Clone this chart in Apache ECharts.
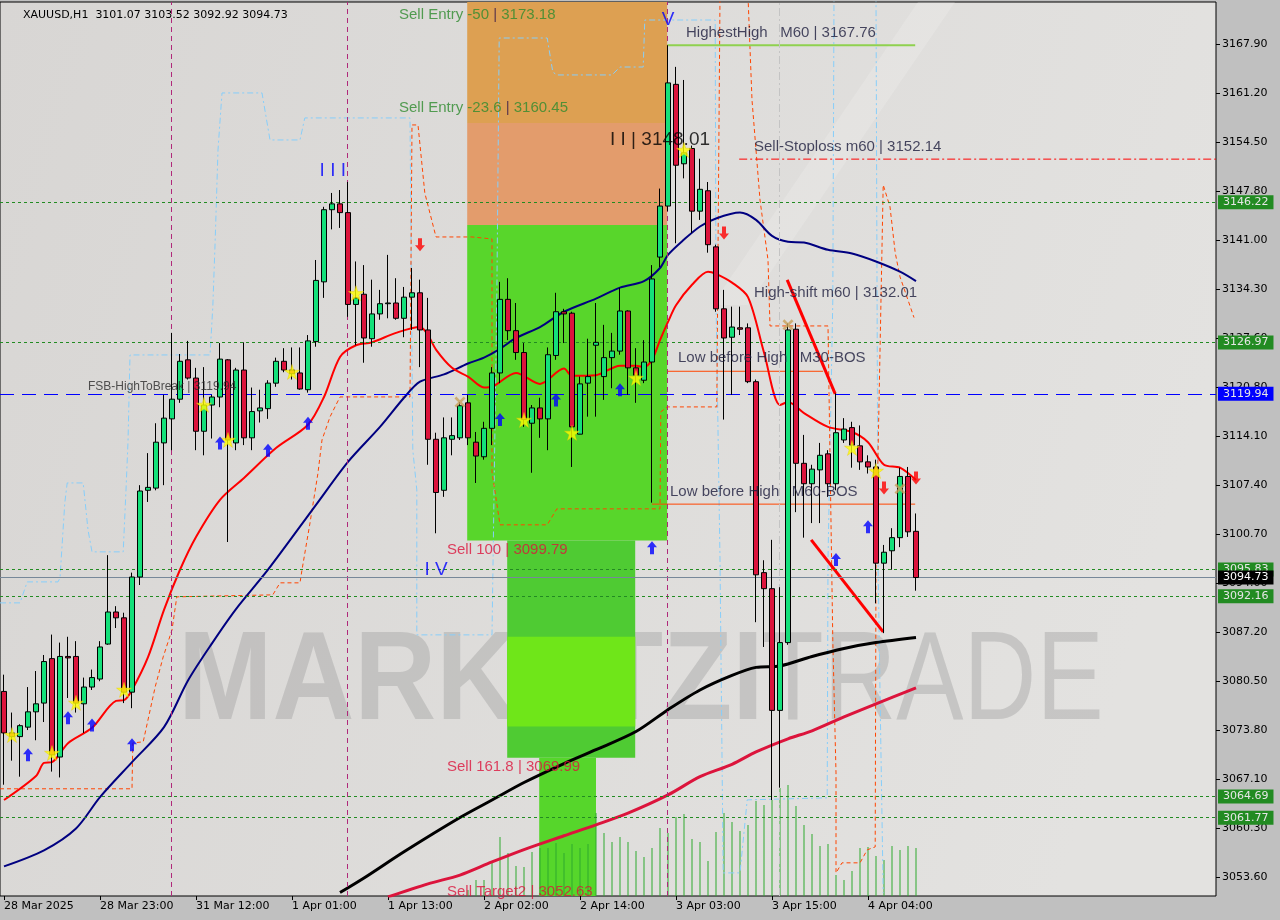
<!DOCTYPE html>
<html><head><meta charset="utf-8">
<script src="https://cdn.jsdelivr.net/npm/echarts@6/dist/echarts.min.js"></script>
<style>html,body{margin:0;padding:0;background:#C0C0C0;}#c{width:1280px;height:920px;}</style>
</head><body><div id="c"></div>
<script>
// ---------------- DATA ----------------
const titleText = 'XAUUSD,H1  3101.07 3103.52 3092.92 3094.73';
const tickLabels = ['28 Mar 2025','28 Mar 23:00','31 Mar 12:00','1 Apr 01:00','1 Apr 13:00','2 Apr 02:00','2 Apr 14:00','3 Apr 03:00','3 Apr 15:00','4 Apr 04:00'];
const priceTicks = [3053.6,3060.3,3067.1,3073.8,3080.5,3087.2,3094.0,3100.7,3107.4,3114.1,3120.8,3127.6,3134.3,3141.0,3147.8,3154.5,3161.2,3167.9];

const opens = [3079.1,3073.4,3072.9,3074.2,3076.3,3077.5,3083.6,3070.1,3083.9,3083.9,3077.4,3079.7,3080.8,3085.6,3090.0,3089.2,3079.0,3094.8,3106.7,3107.0,
3113.2,3116.5,3119.2,3124.6,3122.1,3114.8,3118.4,3119.5,3124.6,3113.2,3123.2,3113.9,3117.6,3117.9,3121.4,3124.4,3123.2,3122.8,3120.5,3127.1,
3135.3,3145.2,3146.0,3144.8,3132.2,3133.6,3127.5,3130.9,3132.3,3132.4,3130.3,3133.2,3133.8,3128.7,3113.7,3106.7,3113.7,3113.9,3118.7,3113.3,
3111.3,3115.2,3122.8,3132.9,3128.6,3125.6,3115.9,3118.0,3116.5,3125.2,3131.2,3131.0,3114.4,3121.4,3126.6,3122.3,3124.9,3125.8,3131.3,3123.5,
3121.8,3124.3,3138.7,3145.7,3162.4,3151.5,3153.6,3145.0,3147.8,3140.1,3131.6,3127.7,3129.0,3129.0,3121.6,3095.4,3093.2,3076.5,3085.8,3128.8,
3110.4,3107.6,3109.5,3111.7,3107.6,3113.6,3115.3,3112.8,3110.6,3109.9,3096.7,3098.4,3100.2,3108.6,3101.07];
const highs = [3081.4,3076.2,3074.6,3079.7,3081.9,3084.1,3086.9,3085.8,3086.6,3086.0,3081.0,3082.1,3086.0,3097.8,3090.8,3089.9,3095.4,3107.4,3111.8,3115.9,
3119.8,3128.3,3125.4,3127.2,3123.5,3123.6,3119.8,3126.9,3124.7,3123.5,3127.0,3120.8,3120.5,3121.8,3124.9,3126.2,3126.3,3126.3,3128.0,3138.3,
3145.6,3147.5,3147.9,3149.0,3138.1,3137.6,3135.6,3134.2,3139.0,3135.8,3134.6,3137.2,3135.6,3133.1,3114.6,3116.7,3116.7,3118.8,3119.8,3114.7,
3116.1,3123.6,3135.3,3135.8,3132.4,3126.9,3118.4,3119.4,3126.3,3133.8,3131.6,3131.2,3122.3,3127.5,3132.4,3129.4,3128.3,3134.5,3131.4,3126.2,
3127.3,3137.6,3148.1,3167.76,3164.8,3163.0,3154.0,3152.2,3149.0,3140.4,3134.2,3131.9,3131.9,3129.6,3121.9,3097.1,3099.9,3093.4,3129.6,3129.6,
3114.3,3110.2,3113.2,3112.2,3120.0,3116.6,3116.1,3115.6,3111.5,3110.9,3099.2,3101.5,3109.8,3109.9,3103.52];
const lows = [3066.3,3069.6,3067.4,3073.8,3072.4,3074.9,3068.1,3067.3,3078.2,3076.2,3073.4,3079.3,3080.5,3085.5,3087.8,3077.5,3076.8,3093.7,3105.1,3106.7,
3107.4,3112.2,3118.7,3121.9,3112.2,3111.5,3113.8,3118.1,3099.6,3112.2,3112.9,3112.2,3116.0,3116.5,3120.9,3122.9,3121.9,3120.5,3120.1,3126.4,
3133.1,3142.5,3142.7,3130.5,3126.6,3124.2,3126.4,3130.1,3130.3,3130.1,3127.7,3128.7,3123.6,3110.2,3100.8,3105.8,3111.5,3113.6,3112.9,3107.7,
3110.9,3112.9,3121.4,3127.3,3124.6,3115.4,3109.1,3113.9,3112.2,3124.6,3126.9,3109.9,3114.4,3116.8,3116.8,3119.1,3120.7,3125.3,3119.8,3118.7,
3121.4,3105.0,3137.3,3145.0,3140.6,3149.5,3142.0,3143.8,3139.3,3131.2,3116.4,3119.8,3128.0,3121.4,3088.6,3085.2,3064.2,3065.9,3085.5,3103.7,
3100.2,3102.2,3102.2,3105.8,3106.7,3113.2,3109.8,3109.5,3109.0,3091.2,3087.1,3095.8,3098.9,3100.3,3092.92];
const closes = [3073.4,3072.9,3074.4,3076.3,3077.4,3083.2,3070.4,3083.9,3083.7,3077.5,3079.7,3081.0,3085.2,3090.0,3089.2,3079.0,3094.8,3106.6,3107.1,3113.3,
3116.6,3119.2,3124.4,3122.1,3114.8,3118.4,3119.5,3124.7,3113.6,3123.2,3113.9,3117.5,3118.0,3121.4,3124.4,3123.2,3122.7,3120.6,3127.2,3135.5,
3145.2,3146.0,3144.8,3132.2,3133.1,3127.6,3130.9,3132.3,3132.4,3130.3,3133.2,3133.8,3128.7,3113.7,3106.4,3113.9,3114.2,3118.3,3113.9,3111.4,
3115.2,3122.8,3132.9,3128.6,3125.6,3116.4,3118.0,3116.5,3125.3,3131.2,3130.9,3115.4,3121.3,3122.3,3127.0,3124.9,3125.8,3131.3,3123.5,3122.5,
3124.3,3135.7,3145.7,3162.6,3151.3,3153.0,3145.0,3148.0,3140.4,3131.6,3127.6,3129.1,3128.8,3121.6,3095.1,3093.2,3076.5,3085.8,3128.7,3110.4,
3107.6,3109.6,3111.5,3107.6,3114.6,3115.1,3112.9,3110.6,3109.9,3096.7,3098.2,3100.2,3108.6,3101.0,3094.73];
// tick volume (visible only on the right part of the reference)
const volumes = [null,null,null,null,null,null,null,null,null,null,null,null,null,null,null,null,null,null,null,null,
null,null,null,null,null,null,null,null,null,null,null,null,null,null,null,null,null,null,null,null,
null,null,null,null,null,null,null,null,null,null,null,null,null,null,null,null,null,null,54,143,
143,304,528,385,269,260,394,430,430,474,385,465,430,465,743,564,483,528,483,403,
349,430,609,564,707,734,510,483,313,573,743,662,582,635,850,814,859,967,993,806,
635,555,448,465,188,143,224,430,439,358,322,448,412,448,430];

// moving averages: [candle index, price]
const maFast = [[0,3064.2],[4,3067.5],[5,3069.3],[6,3069.4],[8,3072.0],[11,3074.1],[14,3077.8],[15,3077.9],[16,3079.3],[18,3083.8],[20,3090.3],[22,3095.8],[24,3100.3],[27,3105.4],[30,3108.4],[34,3112.5],[38,3115.7],[40,3119.5],[42,3125.0],[44,3126.6],[46,3127.0],[49,3128.3],[52,3129.1],[53,3128.0],[54,3126.0],[56,3123.5],[58,3122.3],[60,3120.8],[61,3120.9],[64,3122.8],[67,3121.3],[70,3123.4],[71,3122.4],[74,3122.5],[77,3123.8],[79,3123.8],[80,3123.6],[81,3124.6],[82,3127.3],[83,3129.8],[84,3132.1],[86,3134.9],[88,3136.7],[89,3136.4],[91,3135.2],[93,3133.2],[95,3125.6],[97,3118.4],[98,3118.8],[100,3117.3],[103,3115.4],[106,3114.7],[108,3113.3],[110,3110.2],[112,3109.8],[114,3108.1]];
const maMid = [[0,3055.1],[5,3057.3],[9,3060.3],[12,3064.6],[16,3069.4],[20,3074.2],[23,3080.6],[26,3085.7],[29,3090.4],[33,3095.8],[39,3104.7],[43,3110.6],[47,3115.4],[50,3119.4],[52,3121.6],[55,3122.6],[58,3124.1],[60,3124.9],[62,3126.1],[64,3127.6],[67,3129.1],[70,3131.2],[74,3133.0],[77,3134.5],[80,3135.4],[82,3137.2],[83,3139.0],[85,3141.1],[87,3142.9],[89,3144.0],[92,3144.8],[94,3143.8],[96,3141.6],[98,3140.8],[100,3140.7],[103,3139.7],[106,3139.2],[109,3138.1],[112,3136.7],[114,3135.4]];
const maSlow = [[42,3051.5],[45,3053.5],[50,3057.1],[57,3061.8],[61,3064.2],[65,3066.6],[70,3069.2],[74,3071.1],[79,3073.6],[83,3076.6],[87,3079.3],[91,3081.3],[94,3082.4],[97,3082.6],[101,3083.9],[105,3085.0],[109,3085.8],[114,3086.5]];
const maLong = [[48,3050.9],[53,3052.7],[57,3053.9],[61,3055.7],[65,3057.4],[70,3059.3],[74,3060.8],[78,3062.4],[83,3064.9],[87,3067.4],[91,3069.1],[94,3070.8],[98,3072.6],[101,3073.7],[105,3075.6],[109,3077.4],[114,3079.6]];

// envelope / channel paths: [index position, price]
const bluePath1 = [[-0.5,3091.25],[2.0,3091.25],[2.9,3094.13],[6.75,3094.13],[7.0,3094.68],[7.6,3104.97],[7.9,3107.71],[9.9,3107.71],[10.5,3101.27],[11.0,3098.25],[14.9,3098.25],[15.25,3106.75],[15.5,3113.34],[15.75,3125.27],[25.75,3125.27],[26.1,3131.86],[26.4,3141.05],[26.75,3153.4],[27.25,3161.22],[32.25,3161.22],[33.25,3154.77],[37.0,3154.77],[37.6,3157.79],[50.75,3157.79],[51.1,3112.24],[51.6,3106.75],[51.6,3086.86],[61.0,3086.86],[61.6,3132.82],[61.9,3168.76],[67.9,3168.76],[68.6,3164.09],[69.1,3163.69],[76.0,3163.69],[77.0,3164.78],[79.9,3164.78],[80.1,3171.23],[88.9,3171.23],[89.0,3132.82],[89.5,3097.15],[89.9,3054.2],[92.0,3054.2],[92.9,3064.22],[102.9,3064.5],[103.0,3097.15],[103.6,3132.82],[103.75,3174.5]];
const bluePath2 = [[109.0,3174.5],[109.25,3097.15],[109.6,3072.04],[109.9,3051.46]];
const orangePath1 = [[-0.5,3065.74],[16.0,3065.74],[16.1,3072.04],[17.4,3072.18],[18.9,3079.73],[19.9,3083.84],[21.0,3087.55],[21.6,3092.08],[33.6,3092.35],[34.5,3094.0],[37.0,3094.0],[37.25,3095.78],[38.25,3102.23],[39.25,3109.09],[39.75,3113.61],[40.75,3116.77],[42.0,3119.51],[50.75,3119.51],[51.0,3156.83],[51.75,3156.83],[52.6,3147.5],[54.0,3141.46],[58.5,3141.46],[61.0,3141.19],[61.0,3109.23],[62.0,3101.96],[67.9,3101.96],[69.1,3104.15],[82.0,3104.15],[82.1,3117.46],[82.9,3118.14],[89.1,3118.14],[89.5,3174.5]];
const orangePath2 = [[93.0,3174.5],[93.5,3160.26],[94.5,3146.54],[95.5,3138.31],[95.75,3129.25],[103.0,3129.25],[103.6,3086.17],[104.0,3067.92],[104.0,3054.2],[104.75,3055.58],[107.0,3055.58],[107.9,3057.36],[108.9,3057.77],[109.0,3097.15],[109.9,3148.6],[110.75,3145.6],[111.4,3139.3],[112.0,3136.0],[113.75,3130.4]];

// trend lines and level segments
const trendA = [[97.9,3135.57],[103.9,3119.94]];
const trendB = [[100.9,3099.9],[109.9,3087.27]];
const highestHigh = [[82.9,3167.76],[113.9,3167.76]];
const bosM30 = [[82.9,3123.03],[102.4,3123.03]];
const bosM60 = [[81.0,3104.8],[113.9,3104.8]];
const stopLoss = [[91.9,3152.14],[151.5,3152.14]];
const daySeparators = [20.9,42.9,82.9];
const greyMarker = [96.9];

// horizontal levels with axis price boxes
const greenLevels = [3146.22,3126.97,3095.83,3092.16,3064.69,3061.77];
const blueLevel = 3119.94;
const lastPrice = 3094.73;

// zones: [x0, x1, priceTop, priceBottom]
const zoneEntryTop = [57.9,82.9,3173.7,3157.1];
const zoneEntryLow = [57.9,82.9,3157.1,3143.1];
const zoneSell = [57.9,82.9,3143.1,3099.8];
const zoneSell2 = [62.9,78.9,3099.8,3070.0];
const zoneSell2Band = [62.9,78.9,3086.6,3074.3];
const zoneTarget = [66.9,74.0,3070.0,3049.0];

// markers: [index, price]
const stars = [[1,3073.12],[6,3070.65],[9,3077.53],[15,3079.32],[25,3118.42],[28,3113.61],[36,3122.94],[44,3133.74],[65,3116.36],[71,3114.58],[79,3122.12],[85,3153.4],[106,3112.51],[109,3109.36]];
const upArrows = [[3,3070.4],[8,3075.5],[11,3074.5],[16,3071.8],[27,3113.2],[33,3112.2],[38,3115.9],[62,3116.4],[69,3119.1],[77,3120.5],[81,3098.8],[104,3097.2],[108,3101.7]];
const downArrows = [[52,3140.4],[90,3142.0],[110,3107.0],[114,3108.4]];
const crosses = [[57,3118.8],[98,3129.4],[112,3106.9]];

// text annotations: [text, index position, price, kind]
const annotations = [
  ['Sell Entry -50 | 3173.18',49.375,3171.9,'fibG'],
  ['Sell Entry -23.6 | 3160.45',49.375,3159.2,'fibG'],
  ['I I I',41.1,3150.6,'wave'],
  ['I I | 3148.01',75.75,3154.8,'waveK'],
  ['V',83.0,3171.2,'wave'],
  ['HighestHigh   M60 | 3167.76',85.25,3169.45,'note'],
  ['Sell-Stoploss m60 | 3152.14',93.75,3153.8,'note'],
  ['High-shift m60 | 3132.01',93.75,3133.8,'note'],
  ['Low before High   M30-BOS',84.25,3124.9,'note'],
  ['Low before High   M60-BOS',83.25,3106.5,'note'],
  ['FSB-HighToBreak | 3119.94',10.5,3120.9,'small'],
  ['Sell 100 | 3099.79',55.375,3098.5,'fibR'],
  ['I V',54.0,3095.8,'wave'],
  ['Sell 161.8 | 3069.99',55.375,3068.7,'fibR'],
  ['Sell Target2 | 3052.63',55.375,3051.6,'fibR']
];

// ---------------- CHART ----------------
const SLOTS = 152;
const AX = 'DejaVu Sans';
const TX = 'Liberation Sans';
const slots = Array.from({length: SLOTS}, (_, i) => (i % 12 === 0 && i / 12 < tickLabels.length) ? tickLabels[i / 12] : '');
const candleData = opens.map((o, i) => [o, closes[i], lows[i], highs[i]]);

const kindStyle = {
  fibG: {main: '#2E8B2E', bar: '#3a1a4a', size: 15, pos: 'right'},
  fibR: {main: '#DC143C', bar: '#DC143C', size: 15, pos: 'right'},
  wave: {main: '#0000FF', bar: '#0000FF', size: 19, pos: 'inside'},
  waveK: {main: '#000000', bar: '#000000', size: 19, pos: 'right'},
  note: {main: '#1C1C3C', bar: '#1C1C3C', size: 15, pos: 'right'},
  small: {main: '#2a2a2a', bar: '#2a2a2a', size: 12, pos: 'right'}
};

function pathSeries(data, color, width, type, z, smooth) {
  return {type: 'line', xAxisIndex: 1, yAxisIndex: 0, data: data, symbol: 'none', smooth: smooth || false,
    lineStyle: {color: color, width: width, type: type || 'solid'}, z: z || 3, silent: true, clip: true};
}
function zoneItem(z, color) {
  return [{xAxis: z[0], yAxis: z[2], itemStyle: {color: color}}, {xAxis: z[1], yAxis: z[3]}];
}

const levelLabel = (bg, fg) => ({show: true, position: 'end', distance: 2, backgroundColor: bg, color: fg,
  padding: [2, 5, 1, 5], fontFamily: AX, fontSize: 11, formatter: p => p.value.toFixed(2)});

const levelLines = greenLevels.map(v => ({yAxis: v, lineStyle: {color: '#228B22', type: [3, 3], width: 1}, label: levelLabel('#228B22', '#E6E6E6')}));
levelLines.push({yAxis: blueLevel, lineStyle: {color: '#0000FF', type: [14, 8], width: 1}, label: levelLabel('#0000FF', '#E6E6E6')});
levelLines.push({yAxis: lastPrice, lineStyle: {color: '#778899', type: 'solid', width: 1}, label: levelLabel('#000000', '#FFFFFF')});

const starPath = 'path://M50,0 L61,35 L98,35 L68,57 L79,91 L50,70 L21,91 L32,57 L2,35 L39,35 Z';
const upPath = 'path://M5,0 L10,6 L7,6 L7,13 L3,13 L3,6 L0,6 Z';
const downPath = 'path://M3,0 L7,0 L7,7 L10,7 L5,13 L0,7 L3,7 Z';
const crossPath = 'path://M0,2 L2,0 L6,4 L10,0 L12,2 L8,6 L12,10 L10,12 L6,8 L2,12 L0,10 L4,6 Z';

const option = {
  animation: false,
  backgroundColor: '#C0C0C0',
  title: {text: titleText, left: 18, top: 5, textStyle: {fontFamily: AX, fontSize: 11, fontWeight: 'normal', color: '#000'}},
  grid: {left: 0, right: 64, top: 2, bottom: 24, show: true, borderColor: '#000', borderWidth: 1, outerBoundsMode: 'none',
    backgroundColor: {type: 'linear', x: 0, y: 0, x2: 1, y2: 0.4, colorStops: [{offset: 0, color: '#D8D6D4'}, {offset: 1, color: '#E3E2E0'}]}},
  xAxis: [
    {type: 'category', data: slots, boundaryGap: true, axisLine: {show: false, onZero: false},
      axisTick: {show: true, alignWithLabel: true, length: 4, interval: (i, v) => v !== '', lineStyle: {color: '#000'}},
      axisLabel: {interval: 0, align: 'left', margin: 5, color: '#000', fontFamily: AX, fontSize: 11},
      splitLine: {show: false}},
    {type: 'value', min: -0.5, max: SLOTS - 0.5, show: false, axisLine: {onZero: false}}
  ],
  yAxis: [
    {type: 'value', position: 'right', min: 3051.03, max: 3173.70, scale: true, axisLine: {show: false, onZero: false}, splitLine: {show: false},
      axisTick: {show: true, length: 4, customValues: priceTicks, lineStyle: {color: '#000'}},
      axisLabel: {customValues: priceTicks, formatter: v => v.toFixed(2), margin: 6, color: '#000', fontFamily: AX, fontSize: 11}},
    {type: 'value', min: 0, max: 8000, show: false, axisLine: {onZero: false}}
  ],
  graphic: [
    {type: 'polygon', z: 0, silent: true, shape: {points: [[712, 305], [748, 305], [955, 2], [918, 2]]}, style: {fill: 'rgba(255,255,255,0.16)'}},
    {type: 'text', z: 1, x: 178, y: 684, scaleX: 0.9, style: {text: 'MARKETZI', font: 'bold 126px "Liberation Sans"', fill: 'rgba(160,160,160,0.42)', verticalAlign: 'middle'}},
    {type: 'text', z: 1, x: 762, y: 684, scaleX: 0.8, style: {text: 'TRADE', font: '126px "Liberation Sans"', fill: 'rgba(160,160,160,0.42)', verticalAlign: 'middle'}}
  ],
  series: [
    {type: 'line', xAxisIndex: 1, yAxisIndex: 0, data: [], z: 1, silent: true,
      markArea: {silent: true, data: [zoneItem(zoneEntryTop, '#DDA052'), zoneItem(zoneEntryLow, '#E39C6C'), zoneItem(zoneSell, '#58D62B'),
        zoneItem(zoneSell2, '#4FCB33'), zoneItem(zoneSell2Band, '#6FE619'), zoneItem(zoneTarget, '#56D62B')]}},
    {type: 'bar', xAxisIndex: 0, yAxisIndex: 1, data: volumes, barWidth: 1, itemStyle: {color: '#2FAA2F'}, z: 2, silent: true},
    {type: 'line', xAxisIndex: 1, yAxisIndex: 0, data: [], z: 2, silent: true,
      markLine: {symbol: ['none', 'none'], silent: true, label: {show: false},
        data: daySeparators.map(v => ({xAxis: v, lineStyle: {color: '#B0287A', type: [5, 4], width: 1}}))
          .concat(greyMarker.map(v => ({xAxis: v, lineStyle: {color: '#C4C4C4', type: [8, 3, 2, 3], width: 1}})))}},
    pathSeries(bluePath1, '#87CEFA', 1, [6, 3, 2, 3], 2),
    pathSeries(bluePath2, '#87CEFA', 1, [6, 3, 2, 3], 2),
    pathSeries(orangePath1, '#FF4500', 1, [4, 3], 2),
    pathSeries(orangePath2, '#FF4500', 1, [4, 3], 2),
    {type: 'line', xAxisIndex: 1, yAxisIndex: 0, data: [], z: 3, silent: true,
      markLine: {symbol: ['none', 'none'], silent: true, data: levelLines}},
    pathSeries(stopLoss, '#FF0000', 1, [8, 3, 2, 3], 3),
    pathSeries(highestHigh, '#8FD14F', 2, 'solid', 3),
    pathSeries(bosM30, '#FF4500', 1, 'solid', 3),
    pathSeries(bosM60, '#FF4500', 1, 'solid', 3),
    pathSeries(maLong, '#DC143C', 3, 'solid', 4, 0.3),
    pathSeries(maSlow, '#000000', 3, 'solid', 4, 0.3),
    pathSeries(maMid, '#000080', 2, 'solid', 4, 0.3),
    pathSeries(maFast, '#FF0000', 2, 'solid', 4, 0.3),
    pathSeries(trendA, '#FF0000', 3, 'solid', 4),
    pathSeries(trendB, '#FF0000', 3, 'solid', 4),
    {type: 'candlestick', xAxisIndex: 0, yAxisIndex: 0, data: candleData, barWidth: 5, z: 5, silent: true,
      itemStyle: {color: '#14E07A', color0: '#DC143C', borderColor: '#000', borderColor0: '#000', borderWidth: 1}},
    {type: 'scatter', xAxisIndex: 1, yAxisIndex: 0, data: stars, symbol: starPath, symbolSize: 15, z: 6, silent: true,
      itemStyle: {color: '#FFFF00', borderColor: '#E8C800', borderWidth: 0.5}},
    {type: 'scatter', xAxisIndex: 1, yAxisIndex: 0, data: upArrows, symbol: upPath, symbolSize: [10, 13], z: 6, silent: true, itemStyle: {color: '#0000FF'}},
    {type: 'scatter', xAxisIndex: 1, yAxisIndex: 0, data: downArrows, symbol: downPath, symbolSize: [10, 13], z: 6, silent: true, itemStyle: {color: '#FF0000'}},
    {type: 'scatter', xAxisIndex: 1, yAxisIndex: 0, data: crosses, symbol: crossPath, symbolSize: 11, z: 6, silent: true, itemStyle: {color: '#C8A05A'}},
    {type: 'scatter', xAxisIndex: 1, yAxisIndex: 0, symbolSize: 0, z: 7, silent: true,
      data: annotations.map(a => {
        const s = kindStyle[a[3]];
        const parts = a[0].split(' | ');
        const rich = {m: {color: s.main, fontSize: s.size, fontFamily: TX}, b: {color: s.bar, fontSize: s.size, fontFamily: TX}};
        return {value: [a[1], a[2]], label: {show: true, position: s.pos, distance: 0, verticalAlign: 'middle',
          color: s.main, fontSize: s.size, fontFamily: TX, rich: rich,
          formatter: parts.length > 1 ? '{m|' + parts[0] + ' }{b||}{m| ' + parts[1] + '}' : '{m|' + parts[0] + '}'}};
      })}
  ]
};
const chart = echarts.init(document.getElementById('c'), null, {width: 1280, height: 920});
chart.setOption(option);
</script></body></html>
